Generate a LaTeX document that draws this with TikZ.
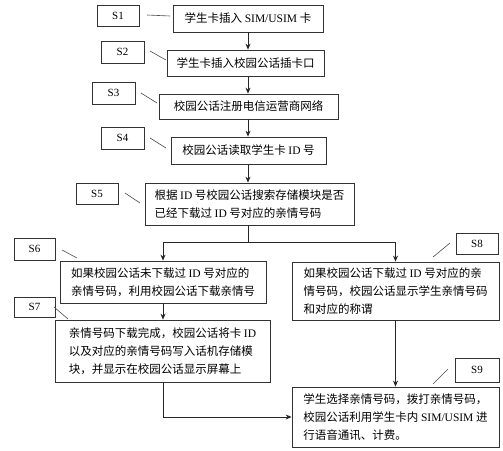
\documentclass[tikz,border=0pt]{standalone}
\usepackage{fontspec}
\setmainfont{Liberation Serif}
\newfontfamily\cjk{Noto Sans CJK SC}
\usetikzlibrary{arrows.meta}
\newcommand\la[1]{{\rmfamily #1}}
\tikzset{
  box/.style={draw=black!80, line width=0.8pt, align=left, inner sep=3pt,
    font=\cjk\fontsize{11.5}{18}\selectfont},
  lbl/.style={draw=black!80, line width=0.8pt, font=\rmfamily\fontsize{11}{13}\selectfont},
  lead/.style={draw=black!70, line width=0.6pt},
  arr/.style={draw=black!85, line width=0.8pt, -{Stealth[length=6pt,width=5pt]}},
  ln/.style={draw=black!85, line width=0.8pt}
}
\begin{document}
\begin{tikzpicture}[x=1pt,y=-1pt]
\useasboundingbox[fill=white] (0,0) rectangle (503,450);
% main boxes
\node[box, minimum width=150pt, minimum height=27pt] (b1) at (248,18.5) {学生卡插入 \la{SIM/USIM} 卡};
\node[box, minimum width=157pt, minimum height=26pt] (b2) at (245.5,63) {学生卡插入校园公话插卡口};
\node[box, minimum width=179pt, minimum height=25pt] (b3) at (248.5,106.5) {校园公话注册电信运营商网络};
\node[box, minimum width=155pt, minimum height=27pt] (b4) at (248.5,150.5) {校园公话读取学生卡 \la{ID} 号};
\node[box, minimum width=209pt, minimum height=42pt] (b5) at (249.5,204) {根据 \la{ID} 号校园公话搜索存储模块是否\\已经下载过 \la{ID} 号对应的亲情号码};
\node[box, minimum width=206pt, minimum height=42pt] (b6) at (163,282) {如果校园公话未下载过 \la{ID} 号对应的\\亲情号码，利用校园公话下载亲情号};
\node[box, minimum width=215pt, minimum height=62pt] (b7) at (162.5,351) {亲情号码下载完成，校园公话将卡 \la{ID}\\以及对应的亲情号码写入话机存储模\\块，并显示在校园公话显示屏幕上};
\node[box, minimum width=207pt, minimum height=58pt] (b8) at (395.5,291) {如果校园公话下载过 \la{ID} 号对应的亲\\情号码，校园公话显示学生亲情号码\\和对应的称谓};
\node[box, minimum width=207pt, minimum height=60pt] (b9) at (395.5,417) {学生选择亲情号码，拨打亲情号码，\\校园公话利用学生卡内 \la{SIM/USIM} 进\\行语音通讯、计费。};
% step labels
\node[lbl, minimum width=42pt, minimum height=21pt] (s1) at (118,15.5) {S1};
\node[lbl, minimum width=43pt, minimum height=22pt] (s2) at (122.5,52) {S2};
\node[lbl, minimum width=43pt, minimum height=22pt] (s3) at (113.5,93) {S3};
\node[lbl, minimum width=43pt, minimum height=22pt] (s4) at (122.5,138) {S4};
\node[lbl, minimum width=42pt, minimum height=21pt] (s5) at (97,193.5) {S5};
\node[lbl, minimum width=41pt, minimum height=22pt] (s6) at (34.5,249) {S6};
\node[lbl, minimum width=41pt, minimum height=20pt] (s7) at (34.5,307) {S7};
\node[lbl, minimum width=42pt, minimum height=21pt] (s8) at (477,243.5) {S8};
\node[lbl, minimum width=44pt, minimum height=24pt] (s9) at (477,370) {S9};
% leader lines
\coordinate (l1a) at (147,15); \coordinate (l1b) at (170,16);
\coordinate (l2a) at (150,51); \coordinate (l2b) at (166,60);
\coordinate (l3a) at (141,93); \coordinate (l3b) at (157,103);
\coordinate (l4a) at (150,138); \coordinate (l4b) at (166,148);
\coordinate (l5a) at (125,193); \coordinate (l5b) at (140,203);
\coordinate (l6a) at (62,250); \coordinate (l6b) at (77,258);
\coordinate (l7a) at (54,307); \coordinate (l7b) at (68,319);
\coordinate (l8a) at (433,257); \coordinate (l8b) at (450,243);
\coordinate (l9a) at (433,384); \coordinate (l9b) at (448,369);
\foreach \i in {1,...,9} {\draw[lead] (l\i a) -- (l\i b);}
% connectors
\draw[arr] (b1.south) -- (b1.south |- b2.north);
\draw[arr] (b2.south -| b1.south) -- (b1.south |- b3.north);
\draw[arr] (b3.south -| b1.south) -- (b1.south |- b4.north);
\draw[arr] (b4.south -| b1.south) -- (b1.south |- b5.north);
\coordinate (j) at (248,242);
\draw[ln] (b5.south -| j) -- (j);
\draw[arr] (j) -| (b6.north);
\draw[arr] (j) -| (b8.north);
\draw[arr] (b6.south) -- (b7.north -| b6.south);
\draw[arr] (b8.south) -- (b9.north);
\draw[arr] (b7.south -| b6.south) |- (b9.west);
\end{tikzpicture}
\end{document}
